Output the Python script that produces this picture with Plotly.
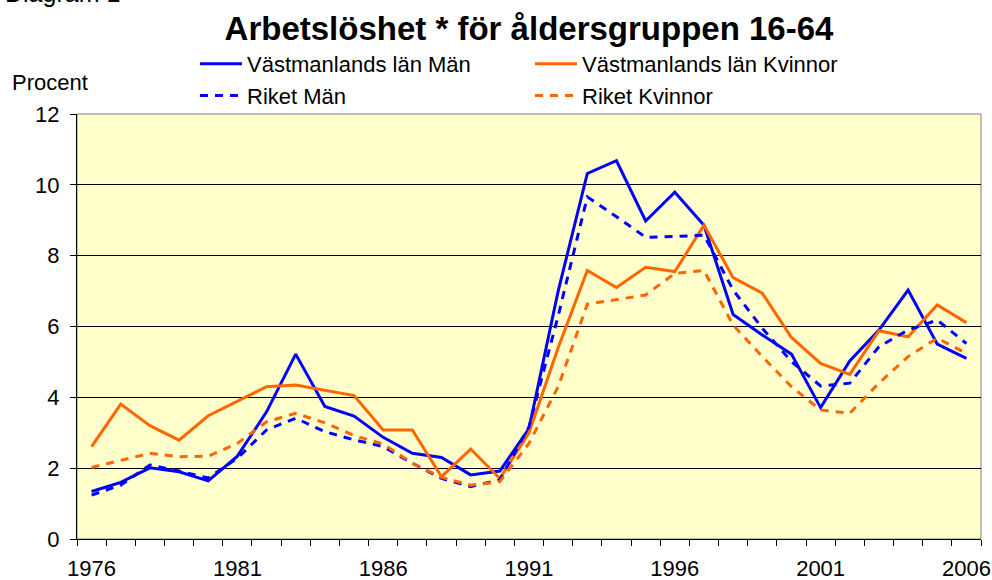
import plotly.graph_objects as go

# ---- data ----
years = [1976, 1977, 1978, 1979, 1980, 1981, 1982, 1983, 1984, 1985,
         1986, 1987, 1988, 1989, 1990, 1991, 1992, 1993, 1994, 1995,
         1996, 1997, 1998, 1999, 2000, 2001, 2002, 2003, 2004, 2005, 2006]

vml_man = [1.34, 1.60, 2.01, 1.90, 1.64, 2.34, 3.59, 5.22, 3.74, 3.47,
           2.87, 2.42, 2.30, 1.81, 1.92, 3.12, 7.00, 10.32, 10.68, 8.98,
           9.79, 8.86, 6.34, 5.76, 5.22, 3.71, 5.03, 5.90, 7.03, 5.50, 5.10]

vml_kvinnor = [2.61, 3.81, 3.20, 2.79, 3.48, 3.88, 4.30, 4.35, 4.21, 4.05,
               3.08, 3.08, 1.76, 2.54, 1.71, 3.00, 5.40, 7.58, 7.10, 7.67,
               7.55, 8.86, 7.38, 6.94, 5.69, 4.96, 4.65, 5.88, 5.71, 6.61, 6.11]

riket_man = [1.24, 1.52, 2.09, 1.92, 1.72, 2.28, 3.08, 3.41, 3.03, 2.80,
             2.61, 2.14, 1.71, 1.48, 1.67, 3.17, 6.30, 9.66, 9.10, 8.52,
             8.54, 8.58, 7.03, 5.95, 5.01, 4.32, 4.40, 5.43, 5.90, 6.18, 5.52]

riket_kvinnor = [2.02, 2.23, 2.42, 2.32, 2.34, 2.70, 3.31, 3.55, 3.28, 2.92,
                 2.68, 2.14, 1.74, 1.52, 1.62, 2.70, 4.30, 6.63, 6.75, 6.89,
                 7.50, 7.58, 6.04, 5.15, 4.30, 3.64, 3.55, 4.40, 5.15, 5.67, 5.24]

tick_years = [1976, 1981, 1986, 1991, 1996, 2001, 2006]
y_ticks = [0, 2, 4, 6, 8, 10, 12]

series_names = ["Västmanlands län Män", "Västmanlands län Kvinnor",
                "Riket Män", "Riket Kvinnor"]

# ---- style ----
BLUE = "#0000FF"
ORANGE = "#FF6600"
FONT = "Arial, 'Liberation Sans', sans-serif"
DASH = "8px,7px"

W, H = 992, 580
L, R, T, B = 77, 11, 114, 41
PW, PH = W - L - R, H - T - B

boundaries = [y - 0.5 for y in years] + [years[-1] + 0.5]

fig = go.Figure()
fig.add_trace(go.Scatter(x=years, y=vml_man, mode="lines", name=series_names[0],
                         line=dict(color=BLUE, width=3)))
fig.add_trace(go.Scatter(x=years, y=vml_kvinnor, mode="lines", name=series_names[1],
                         line=dict(color=ORANGE, width=3)))
fig.add_trace(go.Scatter(x=years, y=riket_man, mode="lines", name=series_names[2],
                         line=dict(color=BLUE, width=3, dash=DASH)))
fig.add_trace(go.Scatter(x=years, y=riket_kvinnor, mode="lines", name=series_names[3],
                         line=dict(color=ORANGE, width=3, dash=DASH)))

fig.add_shape(type="rect", xref="paper", yref="paper", x0=0, x1=1, y0=0, y1=1,
              line=dict(color="#808080", width=1), layer="below")

fig.update_layout(
    width=W, height=H, autosize=False,
    margin=dict(l=L, r=R, t=T, b=B, pad=0, autoexpand=False),
    paper_bgcolor="white", plot_bgcolor="#FFFFCC",
    font=dict(family=FONT, size=22, color="black"),
    title=dict(text="<b>Arbetslöshet * för åldersgruppen 16-64</b>",
               x=0.5, xref="paper", xanchor="center",
               y=1 - 28.5 / H, yref="container", yanchor="middle",
               font=dict(size=33, color="black", family=FONT)),
    showlegend=True,
    legend=dict(orientation="h", xref="container", yref="container",
                x=195 / W, y=1 - 43 / H, xanchor="left", yanchor="top",
                entrywidth=278, entrywidthmode="pixels", itemwidth=42,
                font=dict(size=22, family=FONT, color="black"),
                bgcolor="rgba(0,0,0,0)", traceorder="normal"),
    xaxis=dict(range=[1975.5, 2006.5], tickmode="array", tickvals=tick_years,
               ticktext=[str(t) for t in tick_years],
               ticks="", showgrid=False, showline=True, linecolor="black",
               linewidth=1, zeroline=False, ticklabelstandoff=10,
               minor=dict(tickmode="array", tickvals=boundaries, ticks="outside",
                          ticklen=6, tickcolor="black", tickwidth=1, showgrid=False)),
    yaxis=dict(range=[0, 12], tickmode="array", tickvals=y_ticks,
               ticks="outside", ticklen=6, tickcolor="black", tickwidth=1,
               showgrid=True, gridcolor="black", gridwidth=1,
               showline=True, linecolor="black", linewidth=1,
               zeroline=False, ticklabelstandoff=6),
    annotations=[
        dict(text="Procent", xref="paper", yref="paper",
             x=(10 - L) / PW, y=(539 - 82) / PH, xanchor="left", yanchor="middle",
             showarrow=False, font=dict(size=22, family=FONT, color="black")),
        dict(text="Diagram 1", xref="paper", yref="paper",
             x=(3 - L) / PW, y=(539 + 7.5) / PH, xanchor="left", yanchor="middle",
             showarrow=False, font=dict(size=25, family=FONT, color="black")),
    ],
)

fig.write_html("out.html", config={"displayModeBar": False},
               post_script="document.body.style.margin='0px';document.body.style.padding='0px';")
